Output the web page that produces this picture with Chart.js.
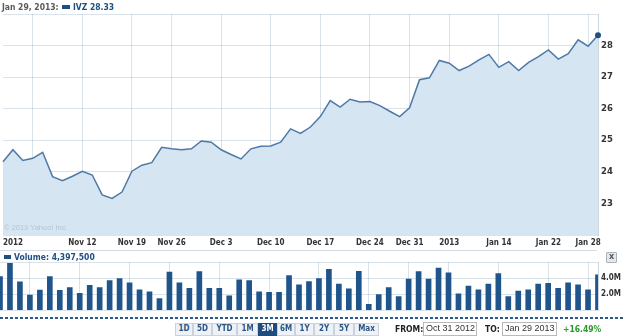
<!DOCTYPE html>
<html><head><meta charset="utf-8">
<script src="https://cdn.jsdelivr.net/npm/chart.js@4.4.1/dist/chart.umd.min.js"></script>
<style>
html,body{margin:0;padding:0;background:#fff;width:625px;height:336px;overflow:hidden;position:relative;}
.t{position:absolute;white-space:nowrap;font-family:"DejaVu Sans Condensed","DejaVu Sans",sans-serif;font-weight:bold;}
canvas{position:absolute;left:0;}
.btn{position:absolute;top:323px;height:11px;line-height:11px;border:1px solid #c9d3de;background:#eef2f7;color:#2b5585;font:bold 8px "DejaVu Sans Condensed","DejaVu Sans",sans-serif;text-align:center;box-sizing:content-box;}
.btn.on{background:#1f4c7c;color:#fff;border-color:#1f4c7c;}
.box{position:absolute;top:322px;height:12px;line-height:12px;border:1px solid #b9b9b9;font:9px "Liberation Sans",Arial,sans-serif;color:#333;padding-left:2px;}
</style></head>
<body>
<canvas id="main" width="625" height="250" style="top:0;width:625px;height:250px"></canvas>
<canvas id="vol" width="625" height="68" style="top:250px;width:625px;height:68px"></canvas>

<div class="t" style="left:2px;top:2px;font-size:8.5px;color:#5a5a5a">Jan 29, 2013:</div>
<div style="position:absolute;left:62px;top:5px;width:8px;height:4px;background:#1f4f82"></div>
<div class="t" style="left:73px;top:2px;font-size:8.5px;color:#1f4f82">IVZ 28.33</div>
<div class="t" style="left:4px;top:223px;font:7.5px 'Liberation Sans',Arial,sans-serif;color:#b6c4d1">© 2013 Yahoo! Inc.</div>
<div style="position:absolute;left:0;top:250px;width:597px;height:1px;background:#d3dbe3"></div>
<div style="position:absolute;left:4px;top:255px;width:7px;height:4px;background:#1f4f82"></div>
<div class="t" style="left:14px;top:252px;font-size:8.5px;color:#1f4f82">Volume: 4,397,500</div>
<div style="position:absolute;left:606px;top:252px;width:9px;height:9px;border:1px solid #a9b1ba;background:#e4e8ec;border-radius:1px;font:bold 8px 'DejaVu Sans',sans-serif;color:#555;text-align:center;line-height:8px">x</div>
<div style="position:absolute;left:0;top:317px;width:625px;height:2px;background:repeating-linear-gradient(90deg,#2a5888 0 3px,transparent 3px 5px)"></div>

<div class="btn" style="left:175px;width:16px">1D</div>
<div class="btn" style="left:193px;width:17px">5D</div>
<div class="btn" style="left:212px;width:23px">YTD</div>
<div class="btn" style="left:237px;width:19px">1M</div>
<div class="btn on" style="left:258px;width:17px">3M</div>
<div class="btn" style="left:277px;width:16px">6M</div>
<div class="btn" style="left:295px;width:17px">1Y</div>
<div class="btn" style="left:314px;width:18px">2Y</div>
<div class="btn" style="left:334px;width:18px">5Y</div>
<div class="btn" style="left:354px;width:23px">Max</div>
<div class="t" style="left:395px;top:324px;font-size:8.5px;color:#222">FROM:</div>
<div class="box" style="left:423px;width:50px">Oct 31 2012</div>
<div class="t" style="left:485px;top:324px;font-size:8.5px;color:#222">TO:</div>
<div class="box" style="left:502px;width:51px">Jan 29 2013</div>
<div class="t" style="left:563px;top:324px;font-size:8.5px;color:#2a9a2a">+16.49%</div>

<script>
const dates = ["Oct 31","Nov 1","Nov 2","Nov 5","Nov 6","Nov 7","Nov 8","Nov 9","Nov 12","Nov 13","Nov 14","Nov 15","Nov 16","Nov 19","Nov 20","Nov 21","Nov 23","Nov 26","Nov 27","Nov 28","Nov 29","Nov 30","Dec 3","Dec 4","Dec 5","Dec 6","Dec 7","Dec 10","Dec 11","Dec 12","Dec 13","Dec 14","Dec 17","Dec 18","Dec 19","Dec 20","Dec 21","Dec 24","Dec 26","Dec 27","Dec 28","Dec 31","Jan 2","Jan 3","Jan 4","Jan 7","Jan 8","Jan 9","Jan 10","Jan 11","Jan 14","Jan 15","Jan 16","Jan 17","Jan 18","Jan 22","Jan 23","Jan 24","Jan 25","Jan 28","Jan 29"];
const prices = [24.32,24.70,24.36,24.43,24.62,23.85,23.72,23.86,24.02,23.90,23.27,23.16,23.36,24.02,24.21,24.29,24.78,24.73,24.70,24.73,24.98,24.94,24.70,24.55,24.41,24.73,24.81,24.82,24.94,25.36,25.22,25.42,25.75,26.26,26.05,26.30,26.21,26.23,26.10,25.92,25.75,26.03,26.92,26.98,27.53,27.44,27.21,27.35,27.55,27.72,27.31,27.49,27.21,27.47,27.65,27.86,27.57,27.74,28.18,27.98,28.33];
const volumes = [4190000,5830000,3530000,1890000,2510000,4190000,2480000,2810000,2110000,3100000,2810000,3680000,3930000,3420000,2550000,2300000,1460000,4740000,3420000,2730000,4810000,2730000,2730000,1790000,3790000,3680000,2300000,2220000,2220000,4300000,3170000,3550000,3950000,5100000,3240000,2660000,4840000,730000,1930000,2810000,1710000,3860000,4810000,3860000,5250000,4660000,2040000,2990000,2550000,3240000,4550000,1710000,2370000,2550000,3240000,3350000,2730000,3420000,3170000,2550000,4397500];
const tickIndex = [1,8,13,17,22,27,32,37,41,45,50,55,59];
const tickText = ["2012","Nov 12","Nov 19","Nov 26","Dec 3","Dec 10","Dec 17","Dec 24","Dec 31","2013","Jan 14","Jan 22","Jan 28"];
const gridIndex = [3,8,13,17,22,27,32,37,41,45,50,55,59];
const priceTicks = [23,24,25,26,27,28];
const volTicks = [2000000,4000000];
const volTickText = ["2.0M","4.0M"];

const FONT = {family:'"DejaVu Sans Condensed","DejaVu Sans",sans-serif', size:8, weight:'bold'};
const YFONT = {family:'"DejaVu Sans",sans-serif', size:8.5, weight:'bold'};
const GRID = 'rgba(140,165,190,0.32)';
const xGrid = c => gridIndex.includes(c.index) ? GRID : 'rgba(0,0,0,0)';

new Chart(document.getElementById('main'), {
  type:'line',
  data:{labels:dates, datasets:[{
    data:prices, borderColor:'#4e79a6', borderWidth:1.5, backgroundColor:'#d5e5f1',
    fill:'start', tension:0, clip:false,
    pointRadius:c=>c.dataIndex===prices.length-1?3:0,
    pointBackgroundColor:'#1f4f82', pointBorderWidth:0, pointHoverRadius:0
  }]},
  options:{
    responsive:false, animation:false, events:[],
    layout:{padding:{top:14,left:0,right:0,bottom:0}},
    plugins:{legend:{display:false},tooltip:{enabled:false}},
    scales:{
      x:{type:'category', offset:false, z:1,
        grid:{color:xGrid, drawTicks:false, offset:false},
        border:{display:false},
        ticks:{autoSkip:false, maxRotation:0, padding:3, color:'#333', font:FONT,
          callback:(v,i)=>{const k=tickIndex.indexOf(i);return k>=0?tickText[k]:'';}},
        afterFit:s=>{s.height=15;}
      },
      y:{position:'right', min:22, max:29, z:1,
        grid:{color:GRID, drawTicks:false},
        border:{display:true, color:'rgba(140,165,190,0.45)'},
        ticks:{stepSize:1, padding:3, color:'#333', font:YFONT,
          callback:v=>priceTicks.includes(v)?String(v):''},
        afterFit:s=>{s.width=27;}
      }
    }
  }
});

new Chart(document.getElementById('vol'), {
  type:'bar',
  data:{labels:dates, datasets:[{data:volumes, backgroundColor:'#1f558b', barThickness:5, borderWidth:0}]},
  options:{
    responsive:false, animation:false, events:[],
    layout:{padding:{top:12,left:0,right:0,bottom:1.5}},
    plugins:{legend:{display:false},tooltip:{enabled:false}},
    scales:{
      x:{type:'category', offset:false,
        grid:{color:xGrid, drawTicks:false, offset:false},
        border:{display:false},
        ticks:{display:false},
        afterFit:s=>{s.height=0;}
      },
      y:{position:'right', min:0, max:6000000,
        grid:{color:GRID, drawTicks:false},
        border:{display:true, color:'rgba(140,165,190,0.45)'},
        ticks:{stepSize:2000000, padding:3, color:'#333', font:FONT,
          callback:v=>{const k=volTicks.indexOf(v);return k>=0?volTickText[k]:'';}},
        afterFit:s=>{s.width=27;}
      }
    }
  }
});
</script>
</body></html>
